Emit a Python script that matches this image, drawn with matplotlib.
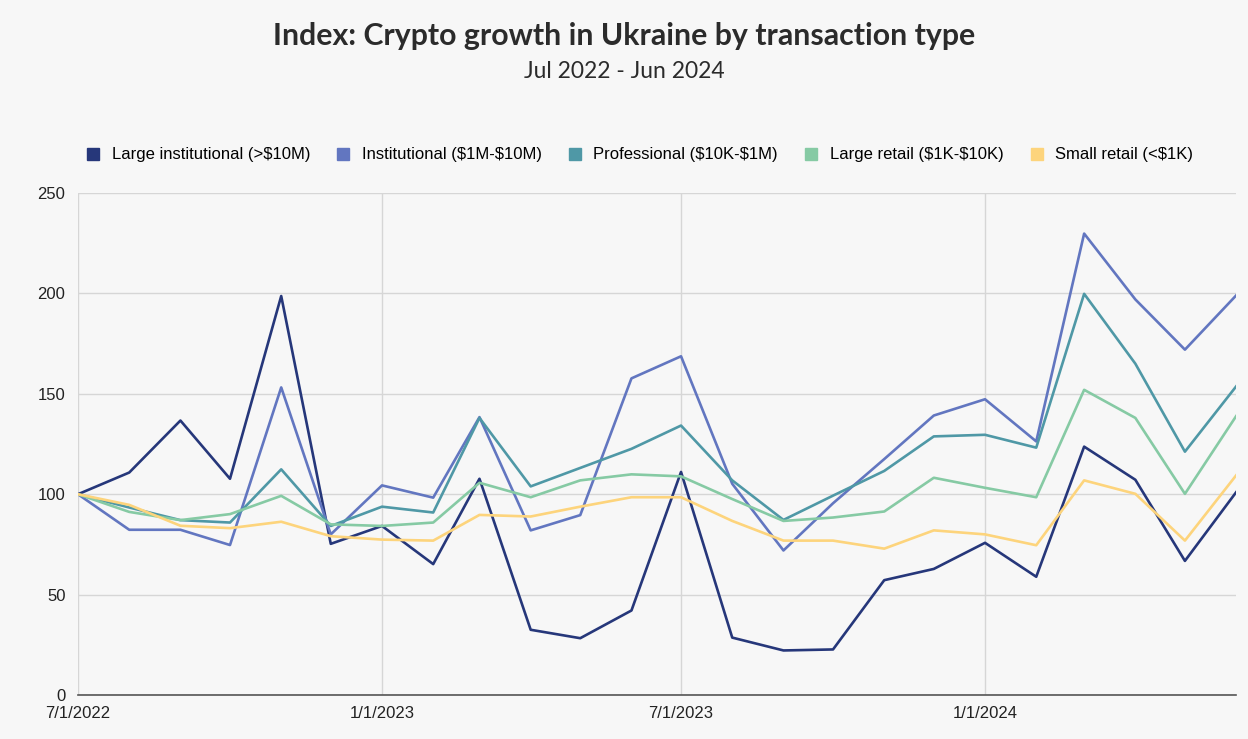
import matplotlib.pyplot as plt
import matplotlib.dates as mdates
from matplotlib.lines import Line2D
import pandas as pd

plt.rcParams['text.parse_math'] = False

# =========================
# data
# =========================

months = pd.date_range('2022-07-01', '2024-06-01', freq='MS')

large_institutional = [100, 110.8, 136.7, 107.7, 198.7, 75.3, 84.2, 65.2,
                       107.7, 32.5, 28.3, 42.1, 111.1, 28.6, 22.2, 22.7,
                       57.2, 62.8, 75.8, 58.9, 123.7, 107.2, 66.8, 101]
institutional = [100, 82.3, 82.3, 74.7, 153.2, 80, 104.4, 98.3,
                 138.4, 82, 89.6, 157.7, 168.7, 105.2, 72, 95.5,
                 117.5, 139.2, 147.3, 126.3, 229.8, 197, 172, 199]
professional = [100, 93.4, 87.1, 85.9, 112.4, 84.2, 93.8, 90.9,
                138, 103.9, 113.1, 122.6, 134.2, 106.9, 87.2, 99.3,
                111.6, 128.8, 129.6, 123.2, 199.8, 165, 121.2, 153.7]
large_retail = [100, 91.2, 87.1, 90.1, 99.2, 85, 84.2, 85.9,
                105.7, 98.5, 106.9, 109.9, 108.9, 97.6, 86.7, 88.4,
                91.4, 108.2, 103.2, 98.5, 152, 138, 100.2, 138.9]
small_retail = [100, 94.7, 84.3, 83.1, 86.3, 79.1, 77.4, 76.9,
                89.7, 88.9, 93.8, 98.5, 98.5, 86.7, 76.9, 76.9,
                72.9, 82, 80, 74.6, 106.9, 100.2, 76.9, 109.4]

series = [
    ('Large institutional (>$10M)', large_institutional, '#26377a'),
    ('Institutional ($1M-$10M)', institutional, '#6276c0'),
    ('Professional ($10K-$1M)', professional, '#4f98a6'),
    ('Large retail ($1K-$10K)', large_retail, '#86caa4'),
    ('Small retail (<$1K)', small_retail, '#fdd47c'),
]

tick_dates = pd.to_datetime(['2022-07-01', '2023-01-01', '2023-07-01', '2024-01-01'])

# =========================
# plot
# =========================

bg = '#f7f7f7'
fig = plt.figure(figsize=(12.48, 7.39), dpi=100, facecolor=bg)
ax = fig.add_axes([0.0625, 0.0595, 0.928, 0.6793], facecolor=bg)

for name, vals, col in series:
    ax.plot(months, vals, color=col, linewidth=1.9, label=name)

ax.set_xlim(months[0], months[-1])
ax.set_ylim(0, 250)
ax.set_yticks([0, 50, 100, 150, 200, 250])
ax.set_xticks(tick_dates)
ax.xaxis.set_major_formatter(mdates.DateFormatter('%-m/%-d/%Y'))

ax.grid(True, color='#d6d6d6', linewidth=1)
ax.set_axisbelow(True)
for s in ['top', 'right', 'left']:
    ax.spines[s].set_visible(False)
ax.spines['bottom'].set_color('#555555')
ax.spines['bottom'].set_linewidth(1.2)
ax.tick_params(length=0, labelsize=12, colors='#222222')
ax.tick_params(axis='y', pad=9)
ax.tick_params(axis='x', pad=8)
for lab in ax.get_xticklabels() + ax.get_yticklabels():
    lab.set_family('Liberation Sans')

# legend with little squares
handles = [Line2D([], [], linestyle='none', marker='s', markersize=8,
                  markerfacecolor=col, markeredgecolor=col)
           for _, _, col in series]
fig.legend(handles, [s[0] for s in series], loc='center', ncol=5,
           bbox_to_anchor=(639 / 1248, 1 - 155 / 739), frameon=False,
           prop={'family': 'Liberation Sans', 'size': 12},
           handletextpad=0.6, columnspacing=1.5, handlelength=1.0)

fig.text(0.5, 1 - 36 / 739, 'Index: Crypto growth in Ukraine by transaction type',
         ha='center', va='center', fontsize=21.8, fontweight='bold',
         family='Lato', color='#2b2b2b')
fig.text(0.5, 1 - 71 / 739, 'Jul 2022 - Jun 2024', ha='center', va='center',
         fontsize=16.5, family='Lato', color='#2b2b2b')

plt.savefig('out.png', dpi=100, facecolor=bg)
